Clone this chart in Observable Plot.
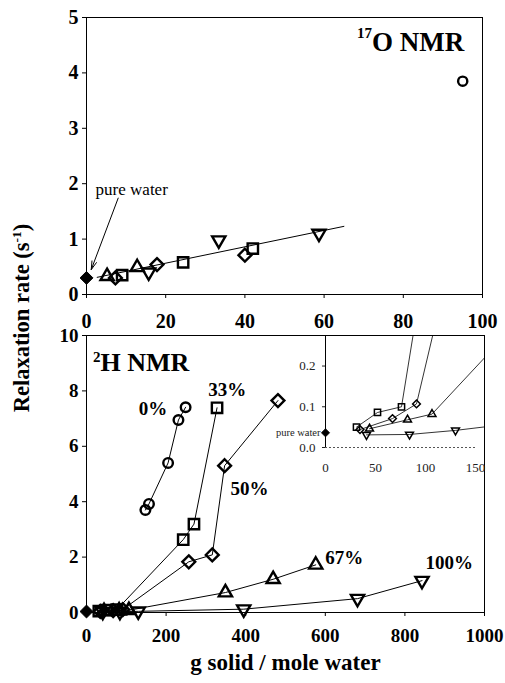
<!DOCTYPE html>
<html><head><meta charset="utf-8">
<script src="https://cdn.jsdelivr.net/npm/d3@7"></script>
<script src="https://cdn.jsdelivr.net/npm/@observablehq/plot@0.6"></script>
<style>
body{margin:0;background:#fff;}
#wrap{position:relative;width:505px;height:683px;overflow:hidden;font-family:"Liberation Serif","Times New Roman",serif;color:#000;}
#top,#bot,#inset{position:absolute;}
#top{left:0;top:0}
#bot{left:0;top:330px}
#inset{left:285px;top:335px}
#ytitle{position:absolute;left:22px;top:318px;transform:translate(-50%,-50%) rotate(-90deg);font-weight:bold;font-size:22.5px;white-space:nowrap;line-height:1;}
#ytitle sup{font-size:0.6em;vertical-align:0.6em;line-height:0;}
</style></head>
<body>
<div id="wrap"><div id="top"></div><div id="bot"></div><div id="inset"></div>
<div id="ytitle">Relaxation rate (s<sup>-1</sup>)</div></div>
<script>
// ---------- 17O NMR (top panel) ----------
const o17PureX = [0], o17PureY = [0.3];
const o17TriUpX = [5.2, 12.8], o17TriUpY = [0.33, 0.49];
const o17DiamondX = [7.3, 17.8, 40], o17DiamondY = [0.3, 0.54, 0.71];
const o17SquareX = [9, 24.4, 42], o17SquareY = [0.35, 0.58, 0.83];
const o17TriDownX = [15.7, 33.4, 58.7], o17TriDownY = [0.4, 0.98, 1.1];
const o17CircleX = [95], o17CircleY = [3.85];
const o17FitX = [2.7, 65], o17FitY = [0.31, 1.23];
const o17Ticks = [0, 1, 2, 3, 4, 5];
const topXTicks = [0, 20, 40, 60, 80, 100];

// ---------- 2H NMR (bottom panel) ----------
const h2PureX = [0], h2PureY = [0.036];
const h2P0X = [148, 157, 205, 231, 249], h2P0Y = [3.7, 3.92, 5.4, 6.95, 7.41];
const h2P33X = [31, 52, 76, 243, 270, 328], h2P33Y = [0.05, 0.086, 0.1, 2.63, 3.19, 7.39];
const h2P50X = [34.5, 67, 91, 257, 316, 347, 481], h2P50Y = [0.044, 0.071, 0.107, 1.83, 2.08, 5.3, 7.65];
const h2P67X = [44, 82, 106.5, 349, 469, 576], h2P67Y = [0.046, 0.068, 0.082, 0.72, 1.2, 1.72];
const h2P100X = [41, 84, 130, 395, 681, 843], h2P100Y = [0.031, 0.032, 0.042, 0.12, 0.5, 1.15];
const h2YTicks = [0, 2, 4, 6, 8, 10];
const h2XTicks = [0, 200, 400, 600, 800, 1000];
const seriesNames = ["0%", "33%", "50%", "67%", "100%"];
const seriesLabelX = [131, 306, 362, 600, 852];
const seriesLabelY = [7.35, 8.05, 4.45, 1.96, 1.78];
const insetXTicks = [0, 50, 100, 150];
const insetYTicks = [0, 0.1, 0.2];

// annotation texts
const o17Title = ["17", "O NMR"], o17TitleX = [72.1], o17TitleY = [4.55];
const h2Title = ["2", "H NMR"], h2TitleX = [35.2], h2TitleY = [9.02];
const pureLabel = "pure water", pureLabelX = [2.3], pureLabelY = [1.9];
const arrowFrom = [8, 1.74], arrowTo = [1.2, 0.45];
const xTitle = "g solid / mole water";

const serif = '"Liberation Serif","Times New Roman",serif';
const pts = (xs, ys) => xs.map((x, i) => ({x, y: ys[i]}));
const triDown = {draw(ctx, size) {
  const s = Math.sqrt(size) * 0.6824, t = s / 2, u = s * Math.sqrt(3) / 2;
  ctx.moveTo(0, s); ctx.lineTo(u, -t); ctx.lineTo(-u, -t); ctx.closePath();
}};
const dot = (data, symbol, r, sw, fill = "none", extra = {}) =>
  Plot.dot(data, {x: "x", y: "y", symbol, r, stroke: "black", strokeWidth: sw, fill, ...extra});
const intFmt = d3.format("d");

// ---------- top plot ----------
const topPlot = Plot.plot({
  width: 505, height: 330, marginLeft: 86, marginRight: 23, marginTop: 17, marginBottom: 36,
  style: {fontFamily: serif, fontSize: "20px", fontWeight: "bold", color: "black", background: "transparent", overflow: "visible"},
  x: {domain: [0, 100], ticks: topXTicks, tickFormat: intFmt, tickSize: 4, tickPadding: 15, label: null},
  y: {domain: [0, 5], ticks: o17Ticks, tickFormat: intFmt, tickSize: 4, tickPadding: 4, label: null},
  marks: [
    Plot.frame({stroke: "black"}),
    Plot.line(pts(o17FitX, o17FitY), {x: "x", y: "y", stroke: "black", strokeWidth: 1}),
    dot(pts(o17TriUpX, o17TriUpY), "triangle2", 6.3, 2.4),
    dot(pts(o17DiamondX, o17DiamondY), "diamond2", 5.8, 2.4),
    dot(pts(o17SquareX, o17SquareY), "square2", 6.6, 2.4),
    dot(pts(o17TriDownX, o17TriDownY), triDown, 6.3, 2.4),
    dot(pts(o17CircleX, o17CircleY), "circle", 4.6, 2.4),
    dot(pts(o17PureX, o17PureY), "diamond2", 5.8, 1, "black"),
    Plot.arrow([0], {x1: () => arrowFrom[0], y1: () => arrowFrom[1], x2: () => arrowTo[0], y2: () => arrowTo[1],
      stroke: "black", strokeWidth: 1, headLength: 13, headAngle: 32}),
    Plot.text([pureLabel], {x: pureLabelX, y: pureLabelY, text: d => d, textAnchor: "start",
      fontSize: 17, fontWeight: "normal", fontFamily: serif, fill: "black"}),
    Plot.text([o17Title[1]], {x: o17TitleX, y: o17TitleY, text: d => d, textAnchor: "start",
      fontSize: 27, fontWeight: "bold", fontFamily: serif, fill: "black"}),
    Plot.text([o17Title[0]], {x: o17TitleX, y: o17TitleY, text: d => d, textAnchor: "end", dy: -9,
      fontSize: 15, fontWeight: "bold", fontFamily: serif, fill: "black"})
  ]
});
document.getElementById("top").appendChild(topPlot);

// ---------- bottom plot ----------
const series = [
  {d: pts(h2P0X, h2P0Y), sym: "circle", r: 4.8},
  {d: pts(h2P33X, h2P33Y), sym: "square2", r: 6.6},
  {d: pts(h2P50X, h2P50Y), sym: "diamond2", r: 5.8},
  {d: pts(h2P67X, h2P67Y), sym: "triangle2", r: 6.3},
  {d: pts(h2P100X, h2P100Y), sym: triDown, r: 6.3}
];
const botPlot = Plot.plot({
  width: 505, height: 353, marginLeft: 86, marginRight: 21, marginTop: 5, marginBottom: 71,
  style: {fontFamily: serif, fontSize: "19px", fontWeight: "bold", color: "black", background: "transparent", overflow: "visible"},
  x: {domain: [0, 1000], ticks: h2XTicks, tickFormat: intFmt, tickSize: 4, tickPadding: 12, label: null},
  y: {domain: [0, 10], ticks: h2YTicks, tickFormat: intFmt, tickSize: 4, tickPadding: 4, label: null},
  marks: [
    Plot.frame({stroke: "black"}),
    ...series.map(s => Plot.line(s.d, {x: "x", y: "y", stroke: "black", strokeWidth: 1})),
    ...series.map(s => dot(s.d, s.sym, s.r, 2.4)),
    dot(pts(h2PureX, h2PureY), "diamond2", 5.8, 1, "black"),
    Plot.text(seriesNames, {x: seriesLabelX, y: seriesLabelY, text: d => d, textAnchor: "start",
      fontSize: 19, fontWeight: "bold", fontFamily: serif, fill: "black"}),
    Plot.text([h2Title[1]], {x: h2TitleX, y: h2TitleY, text: d => d, textAnchor: "start",
      fontSize: 26, fontWeight: "bold", fontFamily: serif, fill: "black"}),
    Plot.text([h2Title[0]], {x: h2TitleX, y: h2TitleY, text: d => d, textAnchor: "end", dy: -5,
      fontSize: 15, fontWeight: "bold", fontFamily: serif, fill: "black"}),
    Plot.text([xTitle], {frameAnchor: "bottom", dy: 57, text: d => d,
      fontSize: 23, fontWeight: "bold", fontFamily: serif, fill: "black"})
  ]
});
document.getElementById("bot").appendChild(botPlot);

// ---------- inset ----------
const insetPlot = Plot.plot({
  width: 199, height: 142, marginLeft: 40, marginRight: 0, marginTop: 0, marginBottom: 30,
  style: {fontFamily: serif, fontSize: "13px", fontWeight: "normal", color: "#222", background: "transparent", overflow: "visible"},
  x: {domain: [0, 159], ticks: insetXTicks, tickFormat: intFmt, tickSize: 0, tickPadding: 15, label: null},
  y: {domain: [0, 0.275], ticks: insetYTicks, tickFormat: d3.format(".1f"), tickSize: 3, tickPadding: 7, label: null},
  marks: [
    Plot.ruleX([0], {stroke: "black", strokeWidth: 1}),
    Plot.ruleY([0], {x1: insetXTicks[0], x2: insetXTicks[3], stroke: "#555", strokeWidth: 1, strokeDasharray: "2,2"}),
    ...series.slice(1).map(s => Plot.line(s.d, {x: "x", y: "y", stroke: "black", strokeWidth: 0.8, clip: true})),
    ...series.slice(1).map(s => dot(s.d.filter(p => p.x <= 159 && p.y <= 0.275), s.sym, s.r * 0.6, 1.5)),
    dot(pts(h2PureX, h2PureY), "diamond2", 3.6, 1, "black"),
    Plot.text([pureLabel], {x: h2PureX, y: h2PureY, text: d => d, textAnchor: "end", dx: -5,
      fontSize: 10.5, fontWeight: "normal", fontFamily: serif, fill: "#222"})
  ]
});
document.getElementById("inset").appendChild(insetPlot);
</script>
</body></html>
